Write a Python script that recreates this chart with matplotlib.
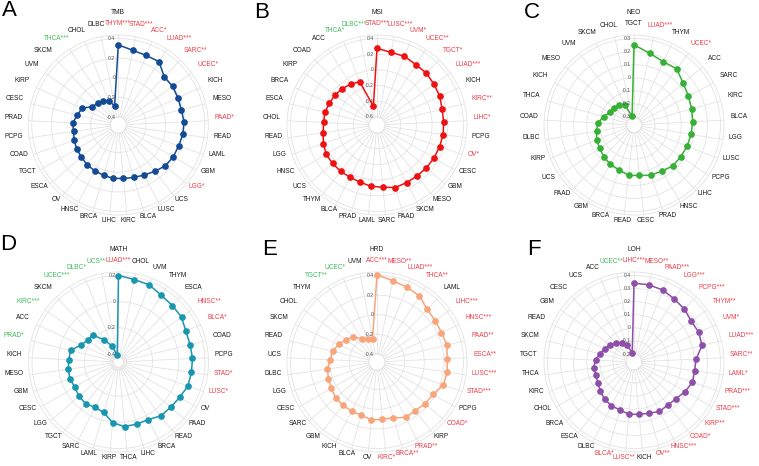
import numpy as np
import matplotlib
matplotlib.use('Agg')
import matplotlib.pyplot as plt
from matplotlib.transforms import ScaledTranslation, offset_copy

plt.rcParams['font.family'] = ['Liberation Sans', 'DejaVu Sans']

W, H, DPI = 759, 466, 100

# ---------------- data ----------------
a_title = 'TMB'
a_cats = ['THYM', 'STAD', 'ACC', 'LUAD', 'SARC', 'UCEC', 'KICH', 'MESO', 'PAAD', 'READ', 'LAML',
          'GBM', 'LGG', 'UCS', 'LUSC', 'BLCA', 'KIRC', 'LIHC', 'BRCA', 'HNSC', 'OV', 'ESCA',
          'TGCT', 'COAD', 'PCPG', 'PRAD', 'CESC', 'KIRP', 'UVM', 'SKCM', 'THCA', 'CHOL', 'DLBC']
a_stars = ['***', '***', '*', '***', '**', '*', '', '', '*', '', '', '', '*', '', '', '', '', '',
           '', '', '', '', '', '', '', '', '', '', '', '', '***', '', '']
a_vals = [0.335, 0.294, 0.282, 0.286, 0.197, 0.197, 0.186, 0.180, 0.189, 0.183, 0.170,
          0.165, 0.154, 0.119, 0.092, 0.076, 0.066, 0.065, 0.053, 0.043, 0.033, 0.017,
          0.008, -0.006, -0.021, -0.016, -0.053, -0.073, -0.157, -0.176, -0.193, -0.213, -0.283]
a_ticks = [0.4, 0.2, 0, -0.2, -0.4]

b_title = 'MSI'
b_cats = ['STAD', 'LUSC', 'UVM', 'UCEC', 'TGCT', 'LUAD', 'KICH', 'KIRC', 'LIHC', 'PCPG', 'OV',
          'CESC', 'GBM', 'MESO', 'SKCM', 'PAAD', 'SARC', 'LAML', 'PRAD', 'BLCA', 'THYM', 'UCS',
          'HNSC', 'LGG', 'READ', 'CHOL', 'ESCA', 'BRCA', 'KIRP', 'COAD', 'ACC', 'THCA', 'DLBC']
b_stars = ['***', '***', '*', '**', '*', '***', '', '**', '*', '', '*', '', '', '', '', '', '',
           '', '', '', '', '', '', '', '', '', '', '', '', '', '', '*', '***']
b_vals = [0.275, 0.240, 0.240, 0.214, 0.210, 0.190, 0.177, 0.152, 0.148, 0.149, 0.142,
          0.137, 0.131, 0.124, 0.123, 0.128, 0.095, 0.083, 0.058, 0.047, 0.048, 0.047,
          0.045, 0.021, -0.008, -0.022, -0.018, -0.035, -0.044, -0.060, -0.084, -0.107, -0.459]
b_ticks = [0.4, 0.2, 0, -0.2, -0.4, -0.6]

c_title = 'NEO'
c_cats = ['TGCT', 'LUAD', 'THYM', 'UCEC', 'ACC', 'SARC', 'KIRC', 'BLCA', 'LGG', 'LUSC', 'PCPG',
          'LIHC', 'HNSC', 'PRAD', 'CESC', 'READ', 'BRCA', 'GBM', 'PAAD', 'UCS', 'KIRP', 'DLBC',
          'COAD', 'THCA', 'KICH', 'MESO', 'UVM', 'SKCM', 'CHOL']
c_stars = ['', '***', '', '*', '', '', '', '', '', '', '', '', '', '', '', '', '', '', '', '',
           '', '', '', '', '', '', '', '', '']
c_vals = [0.252, 0.200, 0.172, 0.178, 0.132, 0.110, 0.096, 0.088, 0.081, 0.076, 0.071,
          0.070, 0.050, 0.044, 0.027, 0.026, 0.000, -0.010, -0.026, -0.043, -0.054, -0.072,
          -0.085, -0.120, -0.154, -0.159, -0.171, -0.191, -0.293]
c_ticks = [0.3, 0.2, 0.1, 0, -0.1, -0.2, -0.3]

d_title = 'MATH'
d_cats = ['LUAD', 'CHOL', 'UVM', 'THYM', 'ESCA', 'HNSC', 'BLCA', 'COAD', 'PCPG', 'STAD', 'LUSC',
          'OV', 'PAAD', 'READ', 'BRCA', 'LIHC', 'THCA', 'KIRP', 'LAML', 'SARC', 'TGCT', 'LGG',
          'CESC', 'GBM', 'MESO', 'KICH', 'PRAD', 'ACC', 'KIRC', 'SKCM', 'UCEC', 'DLBC', 'UCS']
d_stars = ['***', '', '', '', '', '**', '*', '', '', '*', '*', '', '', '', '', '', '', '', '',
           '', '', '', '', '', '', '', '*', '', '***', '', '***', '*', '**']
d_vals = [0.200, 0.181, 0.173, 0.145, 0.135, 0.130, 0.105, 0.102, 0.105, 0.102, 0.100,
          0.079, 0.067, 0.062, 0.035, 0.033, 0.035, 0.005, -0.059, -0.071, -0.056, -0.061,
          -0.076, -0.068, -0.073, -0.081, -0.084, -0.147, -0.172, -0.175, -0.262, -0.330, -0.410]
d_ticks = [0.2, 0, -0.2, -0.4]

e_title = 'HRD'
e_cats = ['ACC', 'MESO', 'LUAD', 'THCA', 'LAML', 'LIHC', 'HNSC', 'PAAD', 'ESCA', 'LUSC', 'STAD',
          'PCPG', 'COAD', 'KIRP', 'PRAD', 'BRCA', 'KIRC', 'OV', 'BLCA', 'KICH', 'GBM', 'SARC',
          'CESC', 'LGG', 'DLBC', 'UCS', 'READ', 'SKCM', 'CHOL', 'THYM', 'TGCT', 'UCEC', 'UVM']
e_stars = ['***', '**', '***', '**', '', '***', '***', '**', '**', '***', '***', '', '*', '',
           '**', '**', '*', '', '', '', '', '', '', '', '', '', '', '', '', '', '**', '*', '']
e_vals = [0.407, 0.363, 0.339, 0.319, 0.260, 0.246, 0.241, 0.252, 0.233, 0.242, 0.234,
          0.179, 0.167, 0.149, 0.153, 0.112, 0.103, 0.113, 0.083, 0.083, 0.078, 0.076,
          0.057, 0.042, 0.029, -0.005, -0.017, -0.051, -0.092, -0.128, -0.200, -0.225, -0.240]
e_ticks = [0.4, 0.2, 0, -0.2, -0.4]

f_title = 'LOH'
f_cats = ['LIHC', 'MESO', 'PAAD', 'LGG', 'PCPG', 'THYM', 'UVM', 'LUAD', 'SARC', 'LAML', 'PRAD',
          'STAD', 'KIRP', 'COAD', 'HNSC', 'OV', 'KICH', 'LUSC', 'BLCA', 'DLBC', 'ESCA', 'BRCA',
          'CHOL', 'KIRC', 'THCA', 'TGCT', 'SKCM', 'READ', 'GBM', 'CESC', 'UCS', 'ACC', 'UCEC']
f_stars = ['***', '**', '***', '***', '***', '**', '*', '***', '**', '*', '***', '***', '**',
           '*', '***', '**', '', '**', '*', '', '', '', '', '', '', '', '', '', '', '', '', '',
           '**']
f_vals = [0.341, 0.340, 0.331, 0.311, 0.297, 0.277, 0.283, 0.274, 0.214, 0.207, 0.212,
          0.190, 0.166, 0.157, 0.164, 0.147, 0.141, 0.140, 0.121, 0.115, 0.102, 0.078,
          0.058, 0.046, 0.050, 0.033, 0.008, -0.015, -0.034, -0.060, -0.090, -0.120, -0.190]
f_ticks = [0.4, 0.3, 0.2, 0.1, 0, -0.1, -0.2]

# ---------------- style ----------------
RED = '#EE3B46'
GREEN = '#3DBB5A'
TXT = '#1A1A1A'
GRID = '#E3E3E3'
R_OUT = 90          # outer circle radius (px)
R_MIN = 8           # radius of the lowest tick (px)
R_MAX = 86.5        # radius of the highest tick (px)

fig = plt.figure(figsize=(W / DPI, H / DPI), dpi=DPI)
fig.patch.set_facecolor('white')

cat_texts = []


def fmt(v):
    if abs(v) < 1e-9:
        return '0'
    return ('%g' % v)


def panel(cx, cy, letter, lpos, title, cats, stars, vals, ticks, color):
    ax = fig.add_axes([(cx - R_OUT) / W, (H - cy - R_OUT) / H, 2 * R_OUT / W, 2 * R_OUT / H],
                      projection='polar')
    ax.set_theta_zero_location('N')
    ax.set_theta_direction(-1)
    n = len(cats)
    theta = np.arange(n) * 2 * np.pi / n
    tmin, tmax = min(ticks), max(ticks)
    per_px = (tmax - tmin) / (R_MAX - R_MIN)
    rmax = tmax + (R_OUT - R_MAX) * per_px
    rorig = tmin - R_MIN * per_px
    lo = min(tmin, min(vals) - 0.012)
    ax.set_ylim(lo, rmax)
    ax.set_rorigin(rorig)
    ax.set_yticks(ticks)
    ax.set_yticklabels([])
    ax.set_xticks(theta)
    ax.set_xticklabels([])
    ax.tick_params(length=0)
    ax.grid(True, color=GRID, lw=0.6)
    ax.spines['polar'].set_color(GRID)
    ax.spines['polar'].set_linewidth(0.6)
    ax.spines['inner'].set_color(GRID)
    ax.spines['inner'].set_linewidth(0.6)
    ax.set_facecolor('white')

    th = np.append(theta, theta[0])
    vv = np.append(vals, vals[0])
    ax.plot(th, vv, color=color, lw=1.1, zorder=3, clip_on=False)
    ax.plot(theta, vals, 'o', color=color, ms=3.8, zorder=4, clip_on=False)

    tr = offset_copy(ax.transData, fig=fig, x=-3, y=0, units='dots')
    for v in ticks:
        ax.text(0, v, fmt(v), transform=tr, ha='right', va='center', fontsize=3.7,
                color='#4D4D4D', zorder=5)

    # category labels
    for i, (c, s, v) in enumerate(zip(cats, stars, vals)):
        a = theta[i]
        sn, cs = np.sin(a), np.cos(a)
        extra = 0.0
        if abs(sn) > 0.05:
            extra = 2.5 * np.sign(sn) * np.clip(cs * 2, 0, 1)
        px = cx + 96 * sn + extra
        py = cy - 3 - 96 * cs
        col = TXT
        if s:
            col = RED if v > 0 else GREEN
        t = fig.text(px / W, 1 - py / H, c + s, ha='center', va='center', fontsize=4.7,
                     color=col)
        cat_texts.append((t, sn, cs))

    fig.text(cx / W, 1 - (cy - 112) / H, title, ha='center', va='center', fontsize=4.8,
             color=TXT)
    fig.text(lpos[0] / W, 1 - lpos[1] / H, letter, ha='left', va='top', fontsize=16,
             color='black')
    return ax


panel(118.3, 125, 'A', (2, 0), a_title, a_cats, a_stars, a_vals, a_ticks, '#124A94')
panel(377, 125, 'B', (254, 2), b_title, b_cats, b_stars, b_vals, b_ticks, '#EE1111')
panel(634, 125, 'C', (524, 2), c_title, c_cats, c_stars, c_vals, c_ticks, '#36B036')
panel(118.5, 362, 'D', (0, 234), d_title, d_cats, d_stars, d_vals, d_ticks, '#1896AF')
panel(377, 362, 'E', (262, 239), e_title, e_cats, e_stars, e_vals, e_ticks, '#F8A57C')
panel(634, 362, 'F', (527, 239), f_title, f_cats, f_stars, f_vals, f_ticks, '#8E4FA8')

# justify category labels outward (like ggplot polar axis labels)
fig.canvas.draw()
r = fig.canvas.get_renderer()
for t, sn, cs in cat_texts:
    bb = t.get_window_extent(renderer=r)
    dx = sn * bb.width / 2
    dy = cs * bb.height / 2 * 0.8
    t.set_transform(t.get_transform() + ScaledTranslation(dx / DPI, dy / DPI, fig.dpi_scale_trans))

fig.savefig('out.png', dpi=DPI, facecolor='white')
